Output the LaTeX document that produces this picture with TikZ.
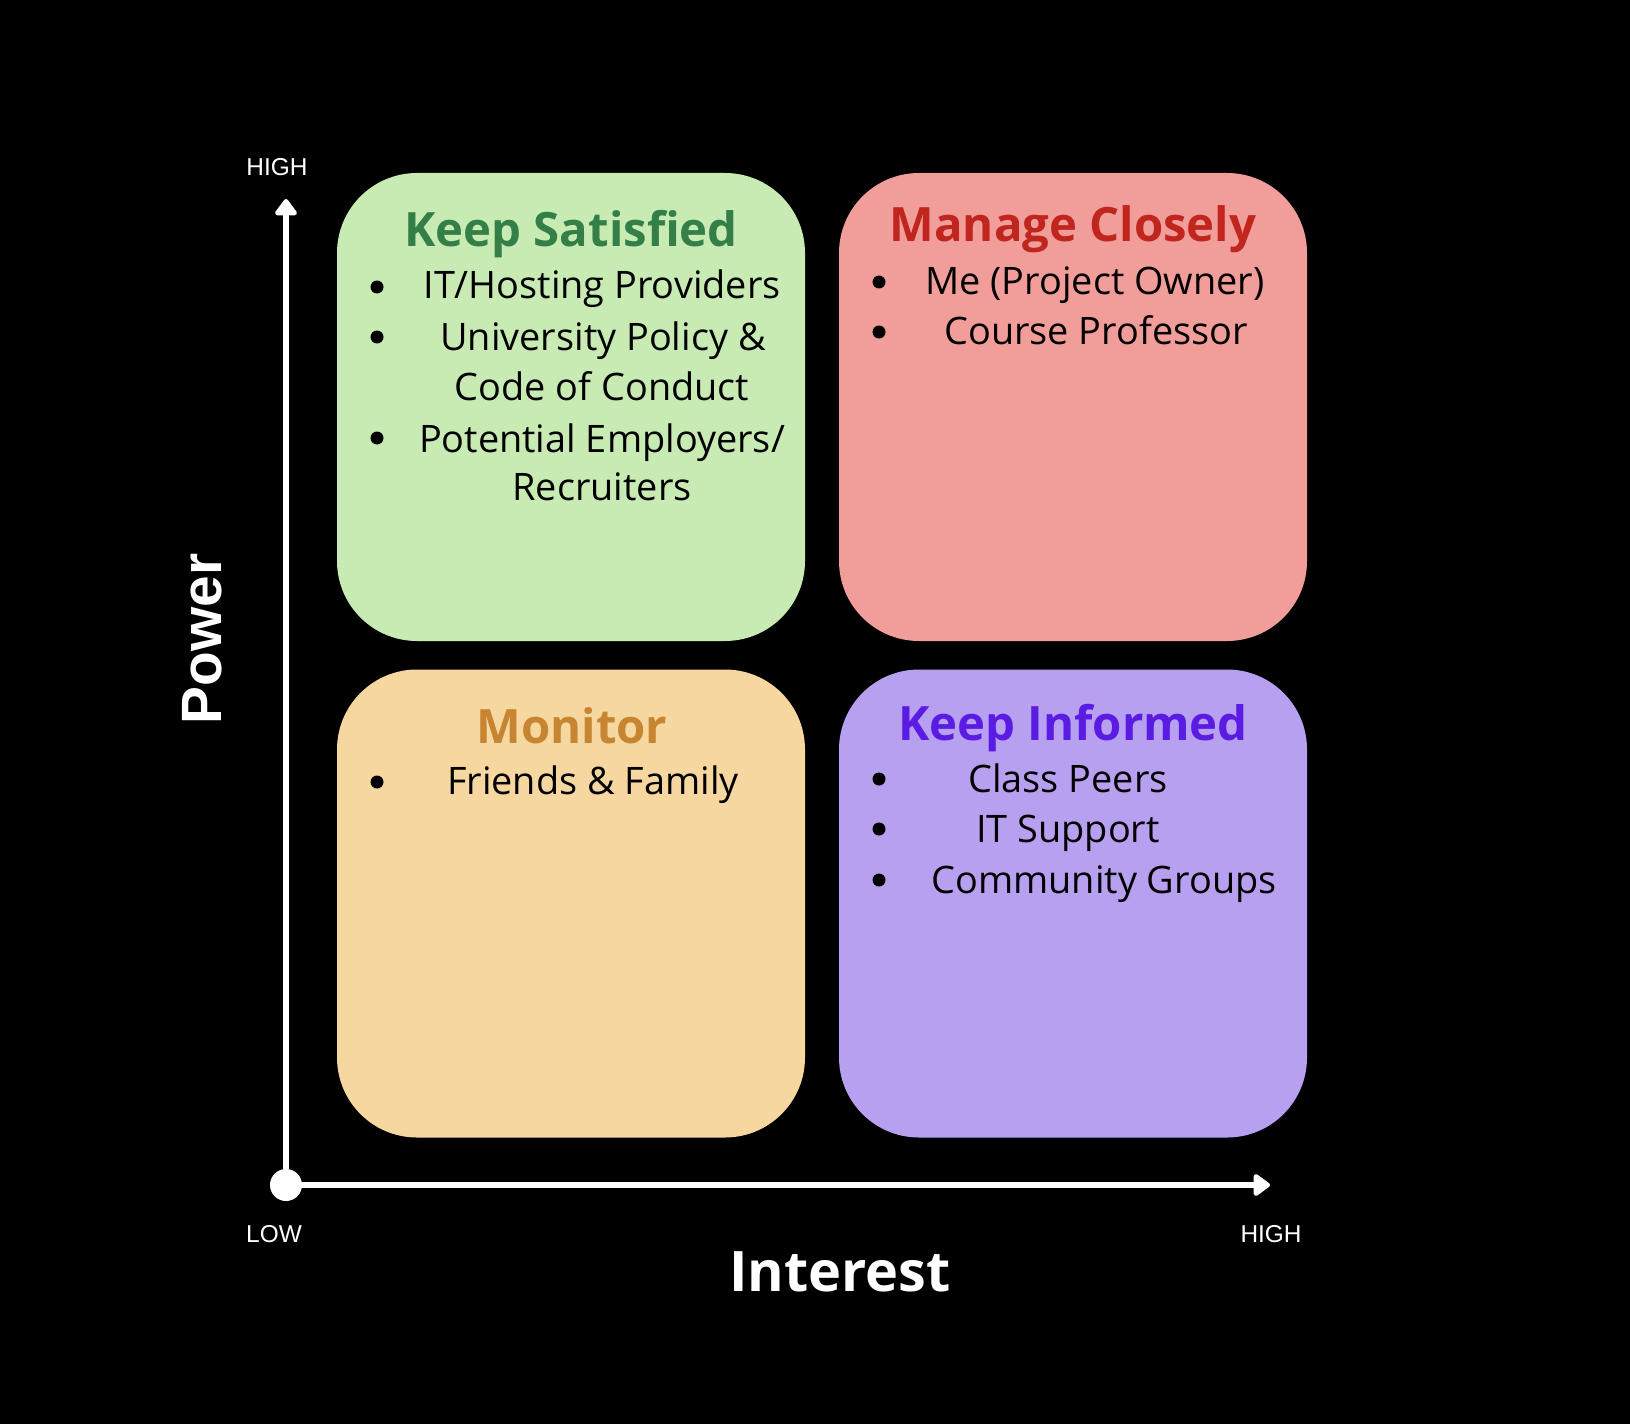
\documentclass[tikz,border=0pt]{standalone}
\usepackage{fontspec}
\setmainfont{Open Sans}
\newfontfamily\axisfont{Liberation Sans}
\usetikzlibrary{arrows.meta,positioning}
\definecolor{satfill}{HTML}{C8EBB4}
\definecolor{satdark}{HTML}{347E48}
\definecolor{manfill}{HTML}{F19D9A}
\definecolor{mandark}{HTML}{C0251E}
\definecolor{monfill}{HTML}{F7D7A0}
\definecolor{mondark}{HTML}{C78431}
\definecolor{inffill}{HTML}{B7A0F0}
\definecolor{infdark}{HTML}{5A1BE3}

\begin{document}
\begin{tikzpicture}[
  x=1bp,
  y=-1bp,
  quadrant/.style={
    rounded corners=80bp,
    minimum width=468bp,
    minimum height=468bp,
    inner sep=0pt
  },
  heading/.style={font=\fontsize{47.5}{54}\selectfont\bfseries,anchor=base},
  item/.style={font=\fontsize{38}{44}\selectfont,text=black,anchor=base},
  bullet/.style={circle,fill=black,inner sep=0pt,minimum size=13bp},
  axisline/.style={white,line width=5.5bp,-{Triangle[width=25bp,length=18bp,round]}},
  ticklabel/.style={font=\axisfont\fontsize{24.5}{28}\selectfont,text=white,anchor=base}
]

% Background
\fill[black] (0,0) rectangle (1630,1424);

% Quadrant boxes
\node[quadrant,fill=satfill] (sat) at (571,407) {};
\node[quadrant,fill=manfill] (man) at (1073,407) {};
\node[quadrant,fill=monfill] (mon) at (571,903.5) {};
\node[quadrant,fill=inffill] (inf) at (1073,903.5) {};

% Headings
\node[heading,text=satdark] (sathead) at (571,247) {Keep Satisfied};
\node[heading,text=mandark] (manhead) at (1073,242) {Manage Closely};
\node[heading,text=mondark] (monhead) at (572,743) {Monitor};
\node[heading,text=infdark] (infhead) at (1073,740) {Keep Informed};

% Keep Satisfied items
\node[item] (sat1) at (602,299) {IT/Hosting Providers};
\node[item] (sat2) at (603,350) {University Policy \&};
\node[item] (sat3) at (602,400) {Code of Conduct};
\node[item] (sat4) at (602,452) {Potential Employers/};
\node[item] (sat5) at (602,500) {Recruiters};

% Manage Closely items
\node[item] (man1) at (1095,295) {Me (Project Owner)};
\node[item] (man2) at (1096,344) {Course Professor};

% Monitor items
\node[item] (mon1) at (593,794) {Friends \& Family};

% Keep Informed items
\node[item] (inf1) at (1068,792) {Class Peers};
\node[item] (inf2) at (1068,842) {IT Support};
\node[item] (inf3) at (1104,893) {Community Groups};

% Bullets
\foreach \name/\bx/\by in {satb1/377/287,satb2/377/337,satb3/377/438,
                           manb1/879/282,manb2/879/332,
                           monb1/377/782,
                           infb1/879/779,infb2/879/829,infb3/879/880}
  \node[bullet] (\name) at (\bx,\by) {};

% Axes
\node[circle,fill=white,inner sep=0pt,minimum size=32bp] (O) at (286,1185) {};
\coordinate (ytop) at (286,199);
\coordinate (xend) at (1270,1185);
\draw[axisline] (O) -- (ytop);
\draw[axisline] (O) -- (xend);

% Axis labels
\node[ticklabel] (yhigh) at (277,176) {HIGH};
\node[ticklabel] (xlow) at (274,1242) {LOW};
\node[ticklabel] (xhigh) at (1271,1242) {HIGH};

\node[
  font=\fontsize{56}{62}\selectfont\bfseries,
  text=white,
  anchor=base
] (interest) at (840,1291) {Interest};

\node[
  font=\axisfont\fontsize{57}{62}\selectfont\bfseries,
  text=white,
  rotate=90
] (power) at (202,639) {Power};

\end{tikzpicture}
\end{document}
